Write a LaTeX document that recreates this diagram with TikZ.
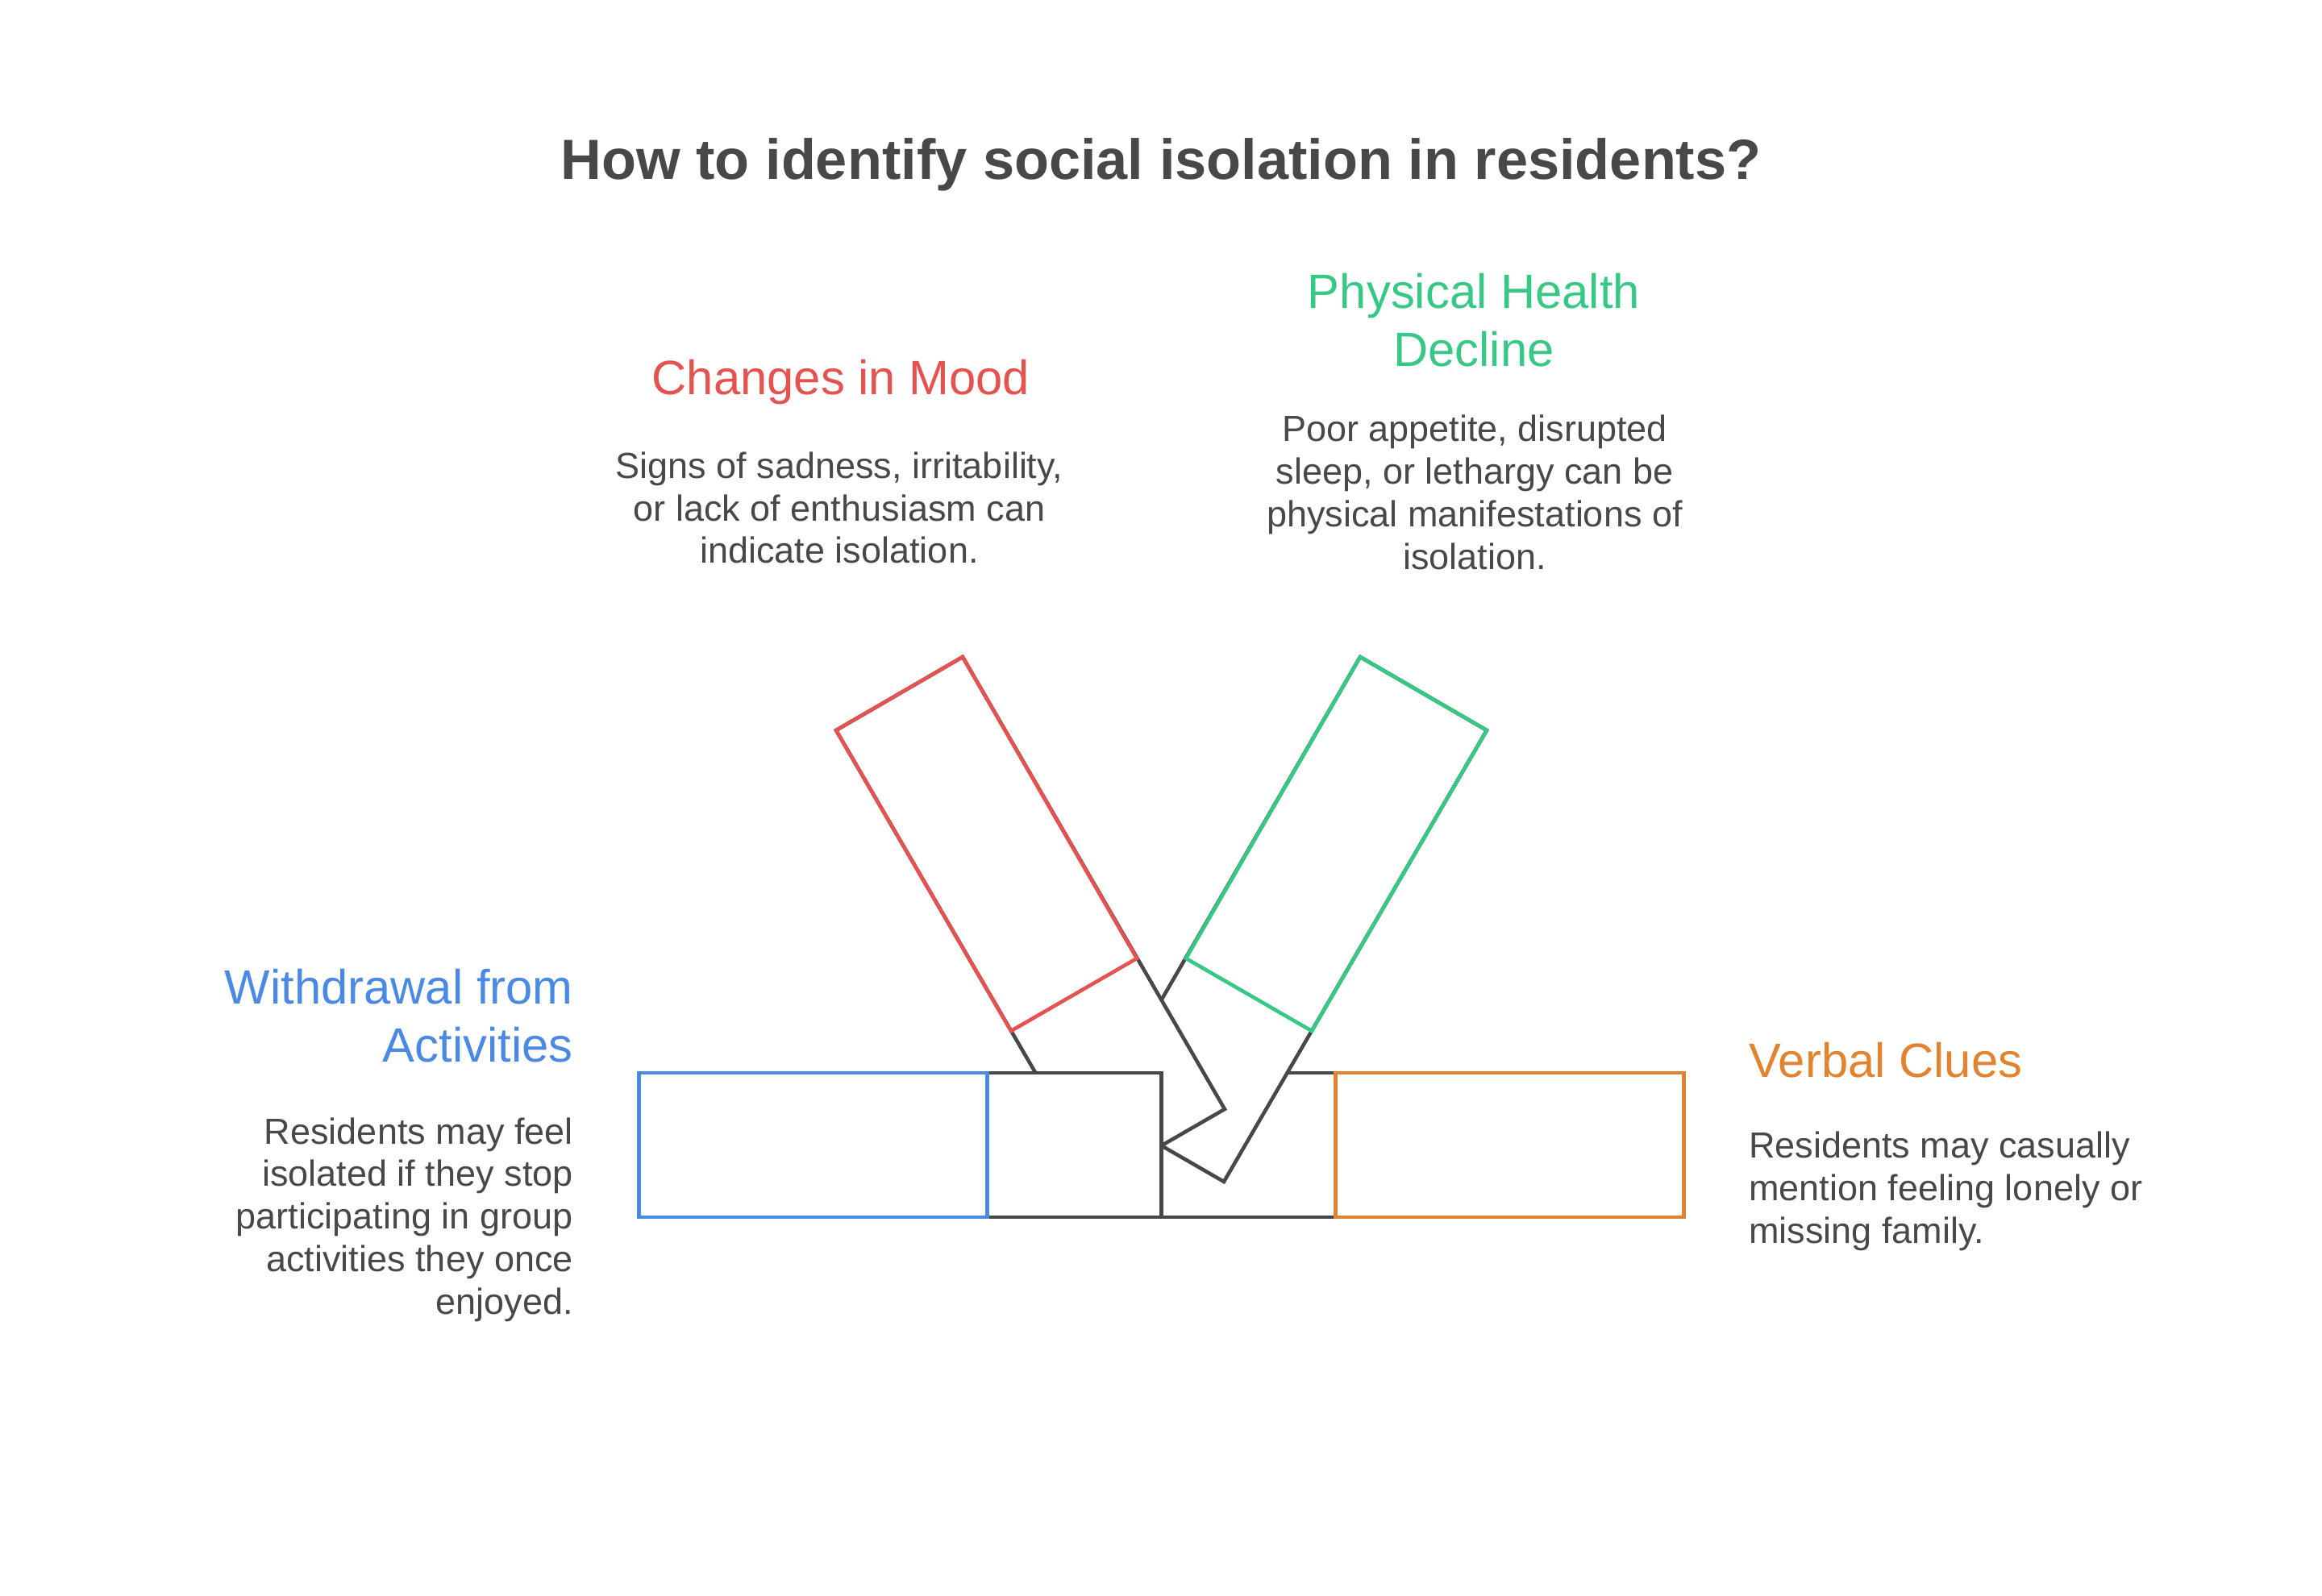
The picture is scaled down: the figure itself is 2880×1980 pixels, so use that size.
\documentclass[tikz,border=0pt]{standalone}
\usepackage{fontspec}
\setmainfont{Liberation Sans}
\usepackage{tikz}
\definecolor{dgray}{HTML}{484848}
\definecolor{mred}{HTML}{E55350}
\definecolor{pgreen}{HTML}{38C885}
\definecolor{wblue}{HTML}{4A89E4}
\definecolor{vorange}{HTML}{E28330}

\begin{document}
\begin{tikzpicture}[x=0.01cm,y=-0.01cm,line width=1.3pt,
  head/.style={font=\fontsize{17}{20.5}\selectfont, inner sep=0},
  body/.style={font=\fontsize{12.8}{15}\selectfont, text=dgray, inner sep=0}]
\useasboundingbox (0,0) rectangle (2880,1980);
\node[font=\bfseries\fontsize{20}{24}\selectfont, text=dgray] (title) at (1440,204) {How to identify social isolation in residents?};
% bar corners
\coordinate (r1) at (1037,906); \coordinate (r2) at (1194,815);
\coordinate (r3) at (1410,1189); \coordinate (r4) at (1254,1279);
\coordinate (r5) at (1519,1376); \coordinate (r6) at (1363,1466);
\coordinate (g1) at (1844,906); \coordinate (g2) at (1687,815);
\coordinate (g3) at (1471,1189); \coordinate (g4) at (1627,1279);
\coordinate (g5) at (1362,1376); \coordinate (g6) at (1518,1466);
\filldraw[draw=dgray, fill=white] (1440.5,1331) rectangle (1656.5,1510); % back square
\filldraw[draw=dgray, fill=white] (g2) -- (g1) -- (g6) -- (g5) -- cycle;
\draw[pgreen] (g2) -- (g1) -- (g4) -- (g3) -- cycle;
\filldraw[draw=dgray, fill=white] (r2) -- (r1) -- (r6) -- (r5) -- cycle;
\draw[mred] (r2) -- (r1) -- (r4) -- (r3) -- cycle;
\filldraw[draw=dgray, fill=white] (1224.5,1331) rectangle (1440.5,1510); % front square
\draw[wblue] (792.5,1331) rectangle (1224.5,1510);
\draw[vorange] (1656.5,1331) rectangle (2088.5,1510);
% labels
\node[head, text=mred] (moodhead) at (1043,474) {Changes in Mood};
\node[body, align=center] (moodtext) at (1041,630) {Signs of sadness, irritability,\\or lack of enthusiasm can\\indicate isolation.};
\node[head, text=pgreen, align=center] (healthhead) at (1828,397) {Physical Health\\Decline};
\node[body, align=center] (healthtext) at (1829,611) {Poor appetite, disrupted\\sleep, or lethargy can be\\physical manifestations of\\isolation.};
\node[head, text=wblue, align=right, anchor=east] (withhead) at (713,1260) {Withdrawal from\\Activities};
\node[body, align=right, anchor=east] (withtext) at (713,1513) {Residents may feel\\isolated if they stop\\participating in group\\activities they once\\enjoyed.};
\node[head, text=vorange, anchor=west] (verbhead) at (2167,1315) {Verbal Clues};
\node[body, align=left, anchor=west] (verbtext) at (2167,1478) {Residents may casually\\mention feeling lonely or\\missing family.};
\end{tikzpicture}
\end{document}
